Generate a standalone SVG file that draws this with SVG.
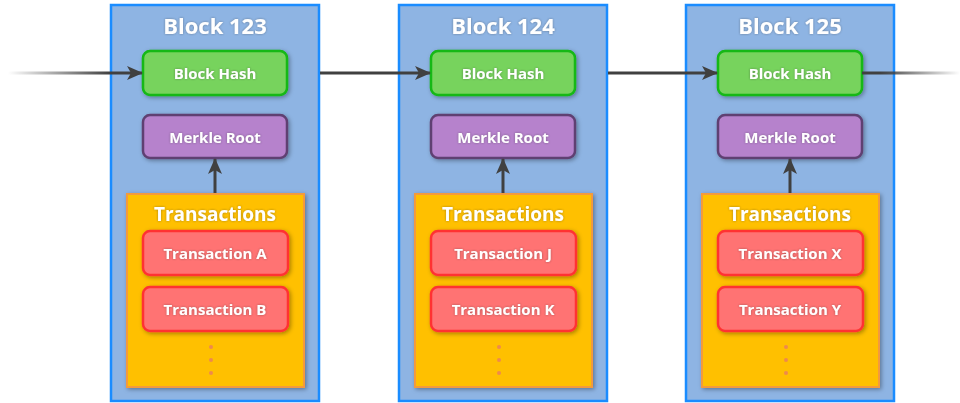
<svg xmlns="http://www.w3.org/2000/svg" width="960" height="403" viewBox="0 0 960 403">
<defs>
<style>
.blk{fill:#8EB4E3;stroke:#1A8CFF;stroke-width:2.5}
.hash{fill:#77D35D;stroke:#12B812;stroke-width:2.5}
.mrk{fill:#B682CC;stroke:#5E3F72;stroke-width:2.5}
.txs{fill:#FFC000;stroke:#F39A3E;stroke-width:2}
.tx{fill:#FF7373;stroke:#FF3333;stroke-width:2.5}
.sh{filter:url(#shadow)}
text{font-family:"Open Sans","Liberation Sans",sans-serif;font-weight:bold;fill:#fff;text-anchor:middle;filter:url(#tshadow)}
.t1{font-size:22px}
.t2{font-size:15px}
.t3{font-size:19px}
.dot{fill:#EE8A4C}
.con{stroke:#404040;stroke-width:3;fill:none}
</style>
<filter id="shadow" x="-20%" y="-20%" width="140%" height="140%">
<feDropShadow dx="1.5" dy="1.5" stdDeviation="2" flood-color="#000" flood-opacity="0.35"/>
</filter>
<filter id="tshadow" x="-10%" y="-30%" width="120%" height="160%">
<feDropShadow dx="0" dy="0" stdDeviation="1.2" flood-color="#333" flood-opacity="0.45"/>
</filter>
<marker id="ah" viewBox="0 0 16 14" refX="15" refY="7" markerWidth="16" markerHeight="14" markerUnits="userSpaceOnUse" orient="auto">
<path d="M0,0 L16,7 L0,14 L4,7 Z" fill="#404040"/>
</marker>
<linearGradient id="fadeIn" gradientUnits="userSpaceOnUse" x1="8" y1="0" x2="110" y2="0">
<stop offset="0" stop-color="#404040" stop-opacity="0"/>
<stop offset="1" stop-color="#404040" stop-opacity="1"/>
</linearGradient>
<linearGradient id="fadeOut" gradientUnits="userSpaceOnUse" x1="880" y1="0" x2="960" y2="0">
<stop offset="0" stop-color="#404040" stop-opacity="1"/>
<stop offset="1" stop-color="#404040" stop-opacity="0"/>
</linearGradient>
</defs>

<g id="block123">
<rect class="blk" x="111" y="5" width="208" height="396"/>
<text class="t1" x="215" y="34">Block 123</text>
<g id="hash123"><rect class="hash sh" x="143" y="51" width="144" height="44" rx="7"/><text class="t2" x="215" y="79">Block Hash</text></g>
<g id="merkle123"><rect class="mrk sh" x="143" y="115" width="144" height="43" rx="7"/><text class="t2" x="215" y="143">Merkle Root</text></g>
<g id="txs123"><rect class="txs sh" x="127" y="194" width="177" height="193"/><text class="t3" x="215" y="221">Transactions</text>
<circle class="dot" cx="211" cy="347" r="2"/><circle class="dot" cx="211" cy="360" r="2"/><circle class="dot" cx="211" cy="373" r="2"/></g>
<g id="txA"><rect class="tx sh" x="143" y="231" width="145" height="44" rx="7"/><text class="t2" x="215" y="259">Transaction A</text></g>
<g id="txB"><rect class="tx sh" x="143" y="287" width="145" height="44" rx="7"/><text class="t2" x="215" y="315">Transaction B</text></g>
</g>

<g id="block124" transform="translate(288,0)">
<rect class="blk" x="111" y="5" width="208" height="396"/>
<text class="t1" x="215" y="34">Block 124</text>
<g id="hash124"><rect class="hash sh" x="143" y="51" width="144" height="44" rx="7"/><text class="t2" x="215" y="79">Block Hash</text></g>
<g id="merkle124"><rect class="mrk sh" x="143" y="115" width="144" height="43" rx="7"/><text class="t2" x="215" y="143">Merkle Root</text></g>
<g id="txs124"><rect class="txs sh" x="127" y="194" width="177" height="193"/><text class="t3" x="215" y="221">Transactions</text>
<circle class="dot" cx="211" cy="347" r="2"/><circle class="dot" cx="211" cy="360" r="2"/><circle class="dot" cx="211" cy="373" r="2"/></g>
<g id="txJ"><rect class="tx sh" x="143" y="231" width="145" height="44" rx="7"/><text class="t2" x="215" y="259">Transaction J</text></g>
<g id="txK"><rect class="tx sh" x="143" y="287" width="145" height="44" rx="7"/><text class="t2" x="215" y="315">Transaction K</text></g>
</g>

<g id="block125" transform="translate(575,0)">
<rect class="blk" x="111" y="5" width="208" height="396"/>
<text class="t1" x="215" y="34">Block 125</text>
<g id="hash125"><rect class="hash sh" x="143" y="51" width="144" height="44" rx="7"/><text class="t2" x="215" y="79">Block Hash</text></g>
<g id="merkle125"><rect class="mrk sh" x="143" y="115" width="144" height="43" rx="7"/><text class="t2" x="215" y="143">Merkle Root</text></g>
<g id="txs125"><rect class="txs sh" x="127" y="194" width="177" height="193"/><text class="t3" x="215" y="221">Transactions</text>
<circle class="dot" cx="211" cy="347" r="2"/><circle class="dot" cx="211" cy="360" r="2"/><circle class="dot" cx="211" cy="373" r="2"/></g>
<g id="txX"><rect class="tx sh" x="143" y="231" width="145" height="44" rx="7"/><text class="t2" x="215" y="259">Transaction X</text></g>
<g id="txY"><rect class="tx sh" x="143" y="287" width="145" height="44" rx="7"/><text class="t2" x="215" y="315">Transaction Y</text></g>
</g>

<g id="connectors">
<path d="M8,73 H142" stroke="url(#fadeIn)" stroke-width="3" fill="none" marker-end="url(#ah)"/>
<path class="con" d="M320,73 H430" marker-end="url(#ah)"/>
<path class="con" d="M608,73 H717" marker-end="url(#ah)"/>
<path d="M862,73 H960" stroke="url(#fadeOut)" stroke-width="3" fill="none"/>
<path class="con" d="M215,193 V159" marker-end="url(#ah)"/>
<path class="con" d="M503,193 V159" marker-end="url(#ah)"/>
<path class="con" d="M790,193 V159" marker-end="url(#ah)"/>
</g>
</svg>
